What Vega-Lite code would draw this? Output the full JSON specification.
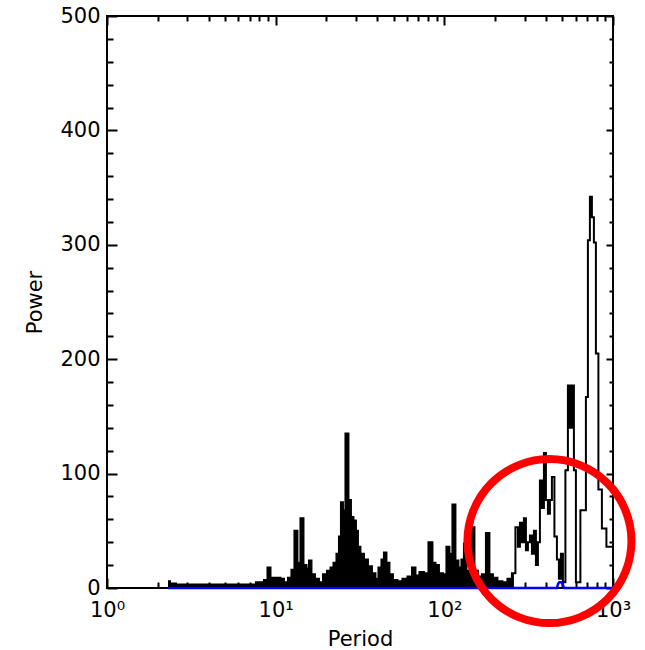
{
  "$schema": "https://vega.github.io/schema/vega-lite/v6.json",
  "width": 506,
  "height": 572,
  "autosize": {"type": "none"},
  "padding": {"left": 107, "top": 16, "right": 32, "bottom": 62},
  "background": "white",
  "config": {
    "view": {"stroke": "black", "strokeWidth": 2},
    "axis": {
      "domain": false,
      "grid": false,
      "labelFont": "DejaVu Sans",
      "titleFont": "DejaVu Sans",
      "labelColor": "black",
      "titleColor": "black",
      "titleFontWeight": "normal",
      "tickColor": "black",
      "tickWidth": 2,
      "labelFlush": false,
      "labelOverlap": false
    }
  },
  "datasets": {
    "spectrum": [
      {"p": 2.30, "w": 6}, {"p": 2.43, "w": 4}, {"p": 2.71, "w": 3}, {"p": 3.32, "w": 3},
      {"p": 3.92, "w": 3}, {"p": 4.19, "w": 3}, {"p": 5.36, "w": 3}, {"p": 7.04, "w": 3},
      {"p": 8.29, "w": 5}, {"p": 8.76, "w": 7}, {"p": 9.13, "w": 18}, {"p": 9.51, "w": 9},
      {"p": 10.04, "w": 9}, {"p": 10.46, "w": 9}, {"p": 10.90, "w": 8}, {"p": 11.51, "w": 5},
      {"p": 12.15, "w": 9}, {"p": 12.66, "w": 16}, {"p": 13.19, "w": 50}, {"p": 13.74, "w": 22},
      {"p": 14.32, "w": 61}, {"p": 14.92, "w": 20}, {"p": 15.54, "w": 17}, {"p": 15.97, "w": 24},
      {"p": 16.64, "w": 12}, {"p": 17.57, "w": 8}, {"p": 18.56, "w": 5}, {"p": 19.60, "w": 12},
      {"p": 20.70, "w": 15}, {"p": 21.57, "w": 18}, {"p": 22.47, "w": 22}, {"p": 23.41, "w": 30},
      {"p": 24.05, "w": 45}, {"p": 24.72, "w": 75}, {"p": 25.40, "w": 68}, {"p": 26.46, "w": 135},
      {"p": 27.57, "w": 77}, {"p": 28.33, "w": 62}, {"p": 29.52, "w": 59}, {"p": 30.33, "w": 50},
      {"p": 31.17, "w": 36}, {"p": 32.47, "w": 30}, {"p": 34.30, "w": 25}, {"p": 36.22, "w": 19},
      {"p": 38.26, "w": 13}, {"p": 39.86, "w": 8}, {"p": 41.52, "w": 18}, {"p": 43.26, "w": 25},
      {"p": 44.46, "w": 31}, {"p": 46.31, "w": 22}, {"p": 48.25, "w": 12}, {"p": 50.96, "w": 7},
      {"p": 54.56, "w": 6}, {"p": 58.42, "w": 8}, {"p": 62.55, "w": 10}, {"p": 66.06, "w": 18},
      {"p": 68.82, "w": 11}, {"p": 73.68, "w": 14}, {"p": 77.81, "w": 13}, {"p": 83.31, "w": 40},
      {"p": 86.80, "w": 22}, {"p": 90.42, "w": 20}, {"p": 95.47, "w": 13}, {"p": 100.8, "w": 12},
      {"p": 105.0, "w": 36}, {"p": 109.4, "w": 30}, {"p": 114.0, "w": 73}, {"p": 118.8, "w": 24},
      {"p": 123.7, "w": 18}, {"p": 128.9, "w": 25}, {"p": 132.5, "w": 39}, {"p": 138.0, "w": 15},
      {"p": 141.8, "w": 12}, {"p": 147.8, "w": 53}, {"p": 153.9, "w": 15}, {"p": 162.6, "w": 10},
      {"p": 171.7, "w": 12}, {"p": 181.3, "w": 48}, {"p": 188.9, "w": 12}, {"p": 199.5, "w": 9},
      {"p": 213.6, "w": 6}, {"p": 228.7, "w": 5}, {"p": 244.9, "w": 8}, {"p": 258.6, "w": 13},
      {"p": 269.4, "w": 53}, {"p": 276.8, "w": 36}, {"p": 284.5, "w": 57}, {"p": 292.4, "w": 40},
      {"p": 300.4, "w": 61}, {"p": 308.8, "w": 33}, {"p": 317.3, "w": 40}, {"p": 326.1, "w": 46},
      {"p": 335.1, "w": 30}, {"p": 344.4, "w": 50}, {"p": 353.9, "w": 20}, {"p": 363.7, "w": 40},
      {"p": 373.8, "w": 94}, {"p": 384.1, "w": 70}, {"p": 394.8, "w": 118}, {"p": 405.7, "w": 77},
      {"p": 416.9, "w": 65}, {"p": 428.4, "w": 77}, {"p": 440.3, "w": 97}, {"p": 458.7, "w": 45},
      {"p": 471.4, "w": 25}, {"p": 484.4, "w": 8}, {"p": 497.8, "w": 30}, {"p": 511.6, "w": 5},
      {"p": 533.0, "w": 103}, {"p": 547.7, "w": 177}, {"p": 562.9, "w": 140}, {"p": 578.5, "w": 177},
      {"p": 594.5, "w": 103}, {"p": 610.9, "w": 5}, {"p": 627.8, "w": 5}, {"p": 654.1, "w": 68},
      {"p": 681.4, "w": 68}, {"p": 700.3, "w": 167}, {"p": 719.6, "w": 304}, {"p": 739.6, "w": 342},
      {"p": 760.0, "w": 324}, {"p": 781.0, "w": 302}, {"p": 802.7, "w": 205}, {"p": 836.2, "w": 86},
      {"p": 883.2, "w": 52}, {"p": 945.8, "w": 36}, {"p": 999, "w": 36}, {"p": 1069, "w": 30}
    ],
    "level": [
      {"p": 2.30, "w": 0}, {"p": 465, "w": 0}, {"p": 472, "w": 3.5}, {"p": 480, "w": 5},
      {"p": 495, "w": 5}, {"p": 503, "w": 3.5}, {"p": 512, "w": 0}, {"p": 1000, "w": 0}
    ],
    "highlight": [
      {"p": 420, "w": 41}
    ]
  },
  "resolve": {"axis": {"x": "independent", "y": "independent"}},
  "layer": [
    {
      "data": {"name": "spectrum"},
      "transform": [{"filter": {"field": "p", "lte": 260}}],
      "mark": {"type": "area", "interpolate": "step", "color": "black"},
      "encoding": {
        "x": {
          "field": "p", "type": "quantitative",
          "scale": {"type": "log", "domain": [1, 1000]},
          "axis": {
            "orient": "bottom",
            "values": [1, 10, 100, 1000],
            "labelExpr": "datum.value == 1 ? '10⁰' : datum.value == 10 ? '10¹' : datum.value == 100 ? '10²' : '10³'",
            "tickSize": -10,
            "labelPadding": 21,
            "labelFontSize": 21,
            "title": "Period",
            "titleFontSize": 21,
            "titlePadding": 8
          }
        },
        "y": {
          "field": "w", "type": "quantitative",
          "scale": {"domain": [0, 500], "nice": false},
          "axis": {
            "orient": "left",
            "values": [0, 100, 200, 300, 400, 500],
            "tickSize": -10,
            "labelPadding": 17,
            "labelFontSize": 21,
            "title": "Power",
            "titleFontSize": 21,
            "titlePadding": 14
          }
        }
      }
    },
    {
      "data": {"name": "spectrum"},
      "mark": {"type": "line", "interpolate": "step", "color": "black", "strokeWidth": 2, "clip": true},
      "encoding": {
        "x": {
          "field": "p", "type": "quantitative",
          "scale": {"type": "log", "domain": [1, 1000]},
          "axis": {"orient": "top", "values": [1, 10, 100, 1000], "labels": false, "tickSize": -9, "title": null}
        },
        "y": {
          "field": "w", "type": "quantitative",
          "scale": {"domain": [0, 500], "nice": false},
          "axis": {"orient": "right", "values": [0, 100, 200, 300, 400, 500], "labels": false, "tickSize": -7, "title": null}
        }
      }
    },
    {
      "data": {"name": "level"},
      "mark": {"type": "line", "color": "#0000ff", "strokeWidth": 2.5},
      "encoding": {
        "x": {
          "field": "p", "type": "quantitative",
          "scale": {"type": "log", "domain": [1, 1000]},
          "axis": {
            "orient": "bottom",
            "values": [2, 3, 4, 5, 6, 7, 8, 9, 20, 30, 40, 50, 60, 70, 80, 90, 200, 300, 400, 500, 600, 700, 800, 900],
            "labels": false, "tickSize": -6, "title": null
          }
        },
        "y": {
          "field": "w", "type": "quantitative",
          "scale": {"domain": [0, 500], "nice": false},
          "axis": {
            "orient": "left",
            "values": [20, 40, 60, 80, 120, 140, 160, 180, 220, 240, 260, 280, 320, 340, 360, 380, 420, 440, 460, 480],
            "labels": false, "tickSize": -6, "title": null
          }
        }
      }
    },
    {
      "data": {"name": "highlight"},
      "mark": {"type": "point", "shape": "circle", "filled": false, "stroke": "#ff0000", "strokeWidth": 8, "size": 26900, "opacity": 1},
      "encoding": {
        "x": {
          "field": "p", "type": "quantitative",
          "scale": {"type": "log", "domain": [1, 1000]},
          "axis": {
            "orient": "top",
            "values": [2, 3, 4, 5, 6, 7, 8, 9, 20, 30, 40, 50, 60, 70, 80, 90, 200, 300, 400, 500, 600, 700, 800, 900],
            "labels": false, "tickSize": -5, "title": null
          }
        },
        "y": {
          "field": "w", "type": "quantitative",
          "scale": {"domain": [0, 500], "nice": false},
          "axis": {
            "orient": "right",
            "values": [20, 40, 60, 80, 120, 140, 160, 180, 220, 240, 260, 280, 320, 340, 360, 380, 420, 440, 460, 480],
            "labels": false, "tickSize": -4, "title": null
          }
        }
      }
    }
  ]
}
